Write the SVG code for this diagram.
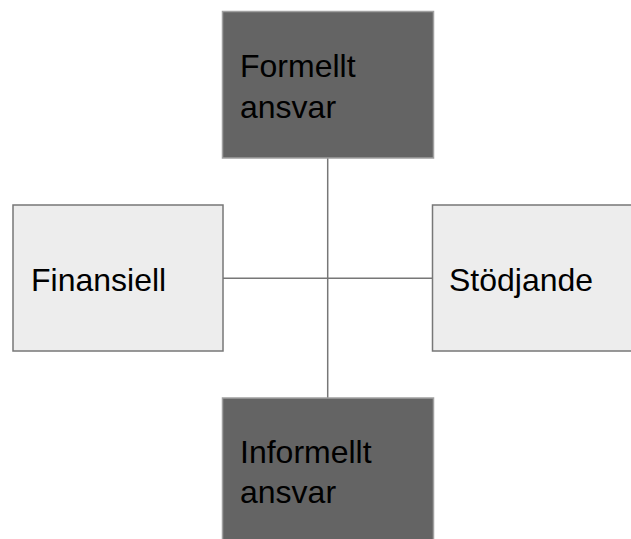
<svg xmlns="http://www.w3.org/2000/svg" width="631" height="539" viewBox="0 0 631 539">
<style>
.dark{fill:#646464;stroke:#a0a0a0;stroke-width:1.5}
.light{fill:#ededed;stroke:#777;stroke-width:1.5}
.lbl{font-family:"Liberation Sans",Arial,sans-serif;font-size:32px;fill:#000}
.conn{stroke:#777;stroke-width:1.5;fill:none}
</style>
<rect width="631" height="539" fill="#fff"/>
<g id="connectors">
<line class="conn" x1="327.7" y1="158" x2="327.7" y2="398"/>
<line class="conn" x1="223" y1="278.3" x2="432.5" y2="278.3"/>
</g>
<g id="formellt">
<rect class="dark" x="222.5" y="11.5" width="211" height="146.5"/>
<text class="lbl" x="240" y="77">Formellt</text>
<text class="lbl" x="240" y="118">ansvar</text>
</g>
<g id="finansiell">
<rect class="light" x="13" y="205" width="210" height="146"/>
<text class="lbl" x="31" y="291">Finansiell</text>
</g>
<g id="stodjande">
<rect class="light" x="432.5" y="205" width="210" height="146"/>
<text class="lbl" x="449" y="291">Stödjande</text>
</g>
<g id="informellt">
<rect class="dark" x="222.5" y="398" width="211" height="150"/>
<text class="lbl" x="240" y="463">Informellt</text>
<text class="lbl" x="240" y="503">ansvar</text>
</g>
</svg>
